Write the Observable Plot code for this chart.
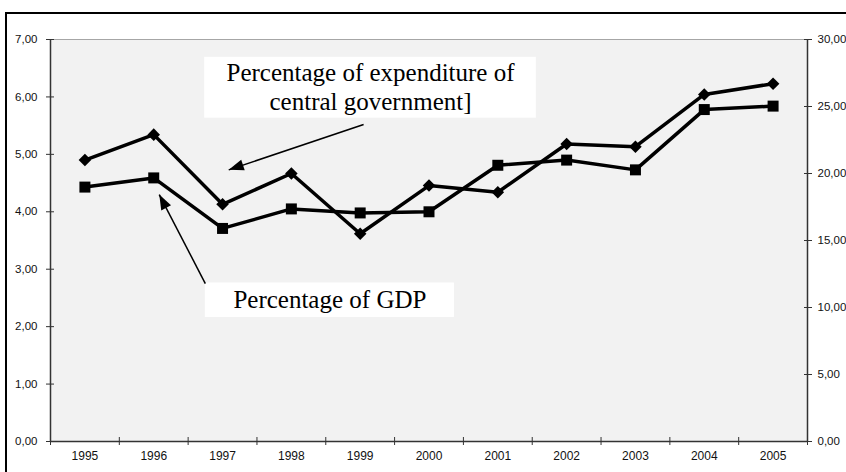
<!DOCTYPE html>
<html>
<head>
<meta charset="utf-8">
<script src="https://cdn.jsdelivr.net/npm/d3@7"></script>
<script src="https://cdn.jsdelivr.net/npm/@observablehq/plot@0.6"></script>
<style>
  html, body { margin: 0; padding: 0; background: #fff; overflow: hidden; width: 846px; height: 472px; }
  #frame { position: absolute; left: 5px; top: 12px; width: 1000px; height: 1000px; border-left: 2px solid #000; border-top: 2px solid #000; }
  #chart { position: absolute; left: 0; top: 0; }
</style>
</head>
<body>
<div id="frame"></div>
<div id="chart"></div>
<script>
// ---- data ----
const years = [1995, 1996, 1997, 1998, 1999, 2000, 2001, 2002, 2003, 2004, 2005];
const gdpShare = [4.43, 4.59, 3.71, 4.05, 3.98, 4.00, 4.81, 4.90, 4.73, 5.78, 5.84];      // left axis
const govShare = [21.0, 22.9, 17.7, 20.0, 15.5, 19.1, 18.6, 22.2, 22.0, 25.9, 26.7];      // right axis
const leftTicks = [0, 1, 2, 3, 4, 5, 6, 7];
const rightTicks = [0, 5, 10, 15, 20, 25, 30];
const labelGov = "Percentage of expenditure of\ncentral government]";
const labelGdp = "Percentage of GDP";

// ---- derived ----
const leftMax = leftTicks[leftTicks.length - 1];
const rightMax = rightTicks[rightTicks.length - 1];
const toLeft = v => v * leftMax / rightMax;
const fmt = v => v.toFixed(2).replace(".", ",");
const rows = years.map((year, i) => ({year, gdp: gdpShare[i], gov: toLeft(govShare[i])}));
const bounds = [years[0] - 0.5, ...years.map(y => y + 0.5)];

// annotation placement (data coordinates)
const boxes = [
  {x1: 1996.74, x2: 2001.56, y1: 5.63, y2: 6.69},
  {x1: 1996.75, x2: 2000.37, y1: 2.16, y2: 2.76}
];
const notes = [
  {x: 1999.15, y: 6.19, text: labelGov},
  {x: 1998.56, y: 2.48, text: labelGdp}
];
const arrows = [
  {x1: 1999.05, y1: 5.52, x2: 1997.09, y2: 4.73},
  {x1: 1996.75, y1: 2.75, x2: 1996.08, y2: 4.30}
];

const sans = "'Liberation Sans', Arial, sans-serif";
const serif = "'Liberation Serif', 'Times New Roman', serif";

const svg = Plot.plot({
  width: 846,
  height: 472,
  marginLeft: 50,
  marginRight: 39,
  marginTop: 39,
  marginBottom: 31,
  style: {fontFamily: sans, fontSize: "11.5px", background: "transparent", color: "#000"},
  x: {type: "linear", domain: [bounds[0], bounds[bounds.length - 1]]},
  y: {domain: [0, leftMax]},
  marks: [
    Plot.frame({fill: "#f2f2f2", stroke: "#a6a6a6", strokeWidth: 1}),
    Plot.ruleY([0], {stroke: "#333", strokeWidth: 1.5}),
    Plot.ruleX([bounds[0], bounds[bounds.length - 1]], {stroke: "#333", strokeWidth: 1.5}),
    Plot.axisY({ticks: leftTicks, tickFormat: fmt, tickSize: 8, dx: 4, tickPadding: 9, label: null, stroke: "#333", fontFamily: sans, fontSize: 11.5, fill: "#111"}),
    Plot.axisY({anchor: "right", ticks: rightTicks.map(toLeft), tickFormat: d => fmt(d * rightMax / leftMax), tickSize: 8, dx: -4, tickPadding: 6, label: null, stroke: "#333", fontFamily: sans, fontSize: 11.5, fill: "#111"}),
    Plot.axisX({ticks: bounds, tickFormat: () => "", tickSize: 8, dy: -4, label: null, stroke: "#333"}),
    Plot.axisX({ticks: years, tickFormat: d => String(d), tickSize: 0, tickPadding: 10, label: null, fontFamily: sans, fontSize: 12, fill: "#111"}),
    Plot.rect(boxes, {x1: "x1", x2: "x2", y1: "y1", y2: "y2", fill: "white"}),
    Plot.text(notes, {x: "x", y: "y", text: "text", fontFamily: serif, fontSize: 25, lineHeight: 1.16, fill: "#000"}),
    Plot.link(arrows, {x1: "x1", y1: "y1", x2: "x2", y2: "y2", stroke: "#000", strokeWidth: 1.5}),
    Plot.line(rows, {x: "year", y: "gov", stroke: "#000", strokeWidth: 3.5}),
    Plot.line(rows, {x: "year", y: "gdp", stroke: "#000", strokeWidth: 3.5}),
    Plot.dot(rows, {x: "year", y: "gov", symbol: "square", rotate: 45, r: 5, fill: "#000", stroke: "none"}),
    Plot.dot(rows, {x: "year", y: "gdp", symbol: "square", r: 6.2, fill: "#000", stroke: "none"})
  ]
});

// filled arrowheads on the annotation links
const s = d3.select(svg);
s.append("defs").append("marker")
  .attr("id", "ahead")
  .attr("markerUnits", "userSpaceOnUse")
  .attr("viewBox", "-16 -6 17 12")
  .attr("markerWidth", 17)
  .attr("markerHeight", 12)
  .attr("refX", 0).attr("refY", 0)
  .attr("orient", "auto")
  .append("path").attr("d", "M0,0L-15,-5.5L-15,5.5Z").attr("fill", "#000");
s.selectAll('g[aria-label="link"] path').attr("marker-end", "url(#ahead)");

document.getElementById("chart").appendChild(svg);
</script>
</body>
</html>
